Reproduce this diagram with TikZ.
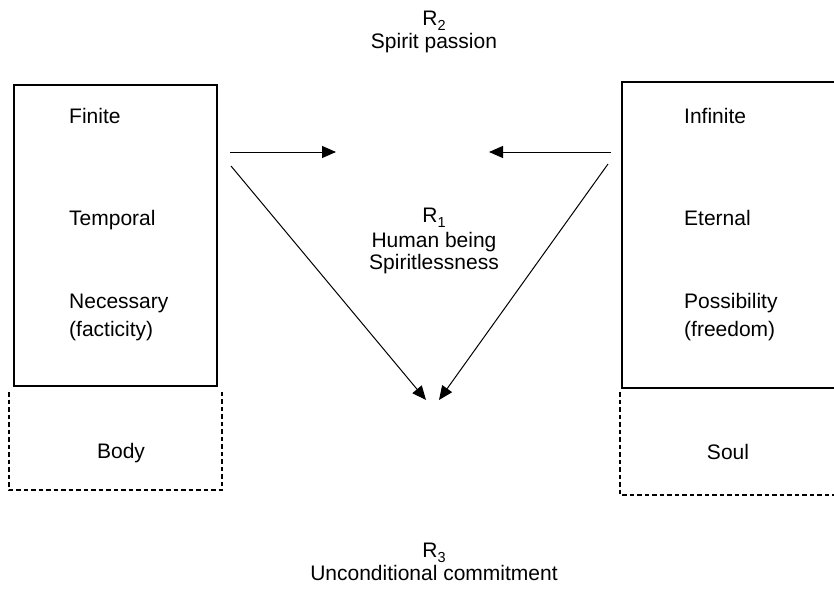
\documentclass[tikz,border=0pt]{standalone}
\usepackage{fontspec}
\setmainfont{Liberation Sans}
\usetikzlibrary{arrows.meta}
\newcommand{\mysub}[1]{\raisebox{-5pt}{\fontsize{14.5}{15}\selectfont #1}}
\begin{document}
\begin{tikzpicture}[x=1pt,y=-1pt,
  lbl/.style={font=\fontsize{21}{24}\selectfont, inner sep=0pt},
  boxline/.style={draw=black, line width=1.2pt},
  dashline/.style={draw=black, line width=1.1pt, dash pattern=on 4.5pt off 3pt},
  arr/.style={draw=black, line width=1pt, -{Triangle[length=14pt,width=12pt]}}]
\clip (0,0) rectangle (834,591);
\useasboundingbox (0,0) rectangle (834,591);
% boxes
\node[boxline, minimum width=203pt, minimum height=301pt, inner sep=0pt] (lbox) at (115.5,235.5) {};
\node[boxline, minimum width=240pt, minimum height=306pt, inner sep=0pt] (rbox) at (742,235) {};
\draw[dashline] (9,392) -- (9,490) -- (222,490) -- (222,392);
\draw[dashline] (620,392) -- (620,495) -- (840,495);
% texts
\node[lbl, anchor=base] (r2) at (434,26) {R\mysub{2}};
\node[lbl, anchor=base] (sp) at (434,49) {Spirit passion};
\node[lbl, anchor=base] (r1) at (434,222) {R\mysub{1}};
\node[lbl, anchor=base] (hb) at (434,247) {Human being};
\node[lbl, anchor=base] (sl) at (434,269) {Spiritlessness};
\node[lbl, anchor=base] (r3) at (434,557) {R\mysub{3}};
\node[lbl, anchor=base] (uc) at (434,580) {Unconditional commitment};
\node[lbl, anchor=base west] (fin) at (69,124) {Finite};
\node[lbl, anchor=base west] (tem) at (69,225) {Temporal};
\node[lbl, anchor=base west] (nec) at (69,308) {Necessary};
\node[lbl, anchor=base west] (fac) at (69,336) {(facticity)};
\node[lbl, anchor=base] (body) at (121,458) {Body};
\node[lbl, anchor=base west] (inf) at (684,124) {Infinite};
\node[lbl, anchor=base west] (ete) at (684,225) {Eternal};
\node[lbl, anchor=base west] (pos) at (684,308) {Possibility};
\node[lbl, anchor=base west] (fre) at (684,336) {(freedom)};
\node[lbl, anchor=base] (soul) at (728,459) {Soul};
% arrows
\coordinate (a1s) at (230,152); \coordinate (a1e) at (336,152);
\coordinate (a2s) at (611,152); \coordinate (a2e) at (489,152);
\coordinate (a3s) at (231,166); \coordinate (a3e) at (426,400);
\coordinate (a4s) at (608,164); \coordinate (a4e) at (439,400);
\draw[arr] (a1s) -- (a1e);
\draw[arr] (a2s) -- (a2e);
\draw[arr] (a3s) -- (a3e);
\draw[arr] (a4s) -- (a4e);
\end{tikzpicture}
\end{document}
